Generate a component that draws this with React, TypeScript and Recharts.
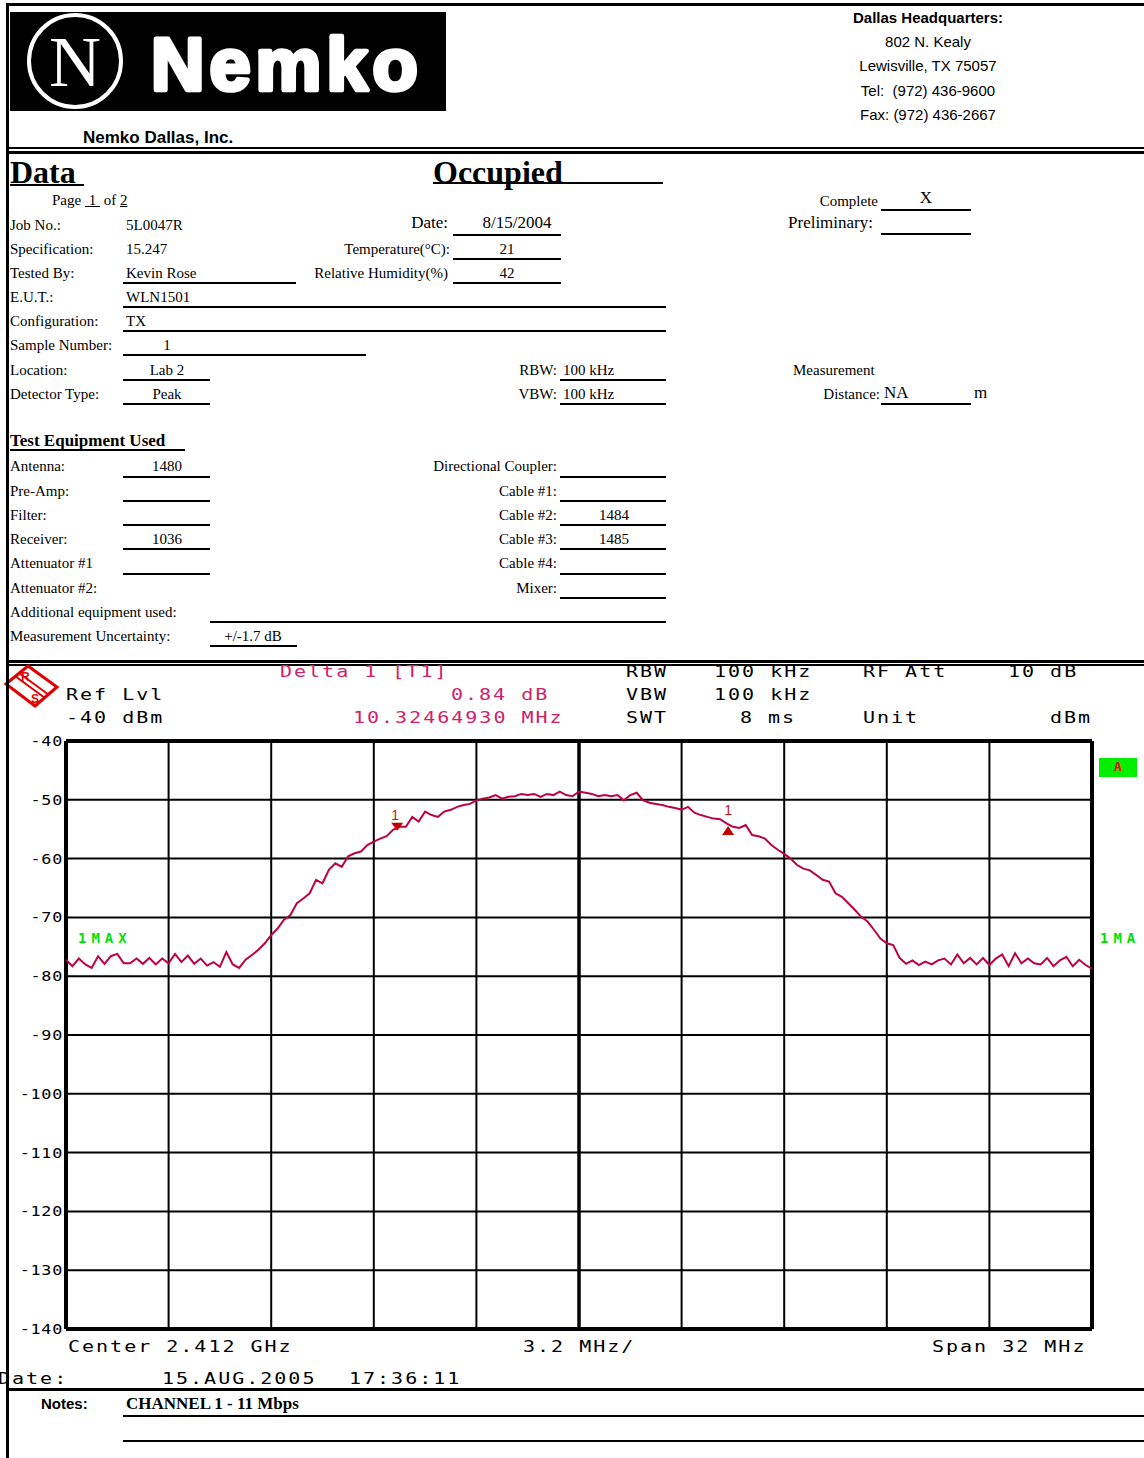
import React from "react";
import { LineChart, Line, XAxis, YAxis, ReferenceLine, ReferenceDot } from "recharts";

// sweep: center 2.412 GHz, span 32 MHz
const START_MHZ = 2396;
const STEP_MHZ = 0.2;

// trace 1 (max hold), dBm
const levels = [
  -77.2, -78.3, -77.0, -78.0, -78.6, -76.6, -77.9, -76.6, -76.2, -77.8,
  -77.8, -77.0, -77.9, -76.9, -78.0, -77.0, -77.8, -76.2, -77.6, -76.5,
  -77.9, -77.0, -78.2, -77.6, -78.4, -75.9, -78.0, -78.6, -77.2, -76.4,
  -75.5, -74.4, -73.0, -71.9, -70.4, -69.6, -67.6, -66.8, -65.9, -63.6,
  -64.2, -61.9, -60.8, -61.4, -59.6, -59.1, -58.8, -57.7, -57.1, -56.6,
  -56.2, -55.1, -54.6, -54.6, -52.9, -53.7, -52.0, -52.6, -52.9, -52.0,
  -51.7, -51.2, -50.9, -50.7, -50.1, -49.8, -49.6, -49.2, -49.8, -49.5,
  -49.4, -49.0, -49.2, -49.0, -49.5, -49.0, -49.2, -48.6, -49.2, -49.4,
  -48.6, -48.8, -49.0, -49.4, -49.2, -49.4, -49.2, -50.1, -49.2, -48.8,
  -50.1, -50.5, -50.7, -50.9, -51.2, -51.4, -51.7, -51.2, -52.2, -52.6,
  -52.9, -53.2, -53.3, -54.0, -54.6, -54.8, -54.3, -56.0, -56.2, -56.6,
  -57.7, -58.5, -59.2, -60.0, -61.1, -61.7, -62.0, -62.8, -63.6, -63.9,
  -65.9, -66.5, -67.6, -68.7, -69.9, -70.7, -72.1, -73.6, -74.4, -74.7,
  -76.9, -77.9, -77.3, -78.1, -77.5, -78.0, -77.3, -77.0, -78.0, -76.3,
  -77.8, -76.9, -78.0, -76.9, -78.1, -77.0, -76.3, -78.3, -76.1, -77.8,
  -77.0, -77.8, -78.0, -76.9, -78.3, -77.3, -76.7, -78.3, -77.2, -78.1, -78.7,
];

const xTicks = [2396, 2399.2, 2402.4, 2405.6, 2408.8, 2412, 2415.2, 2418.4, 2421.6, 2424.8, 2428];
const yTicks = [-40, -50, -60, -70, -80, -90, -100, -110, -120, -130, -140];

const marker1 = { freq: 2406.33, level: -54.6 };
const delta1 = { freq: 2416.65, level: -53.76 };

const trace = levels.map((level, i) => ({ freq: +(START_MHZ + i * STEP_MHZ).toFixed(2), level }));

const W = 1144;
const SERIF = '"Liberation Serif", "Times New Roman", serif';
const SANS = '"Liberation Sans", Arial, sans-serif';
const MONO = '"DejaVu Sans Mono", monospace';
const PINK = "#d0206a";
const TRACE = "#be0046";

type TP = {
  x: number;
  y: number;
  s?: number;
  f?: string;
  b?: boolean;
  a?: "l" | "r" | "c";
  c?: string;
  ls?: number;
  children: React.ReactNode;
};

function T({ x, y, s = 15, f = SERIF, b, a = "l", c = "#000", ls, children }: TP) {
  const style: React.CSSProperties = {
    position: "absolute",
    top: y - s * 0.6,
    fontSize: s,
    lineHeight: `${s * 1.2}px`,
    fontFamily: f,
    fontWeight: b ? "bold" : "normal",
    color: c,
    whiteSpace: "pre",
    letterSpacing: ls,
  };
  if (a === "l") style.left = x;
  else if (a === "r") style.right = W - x;
  else {
    style.left = x;
    style.transform = "translateX(-50%)";
  }
  return <div style={style}>{children}</div>;
}

function HL({ x1, x2, y, w = 2 }: { x1: number; x2: number; y: number; w?: number }) {
  return <div style={{ position: "absolute", left: x1, top: y - w / 2, width: x2 - x1, height: w, background: "#000" }} />;
}

// instrument screen text, wide thin glyphs
function M({ x, y, c = "#000", children }: { x: number; y: number; c?: string; children: React.ReactNode }) {
  return (
    <div
      style={{
        position: "absolute",
        left: x,
        top: y - 9.6,
        fontSize: 16,
        lineHeight: "19.2px",
        fontFamily: MONO,
        letterSpacing: 1.6,
        color: c,
        whiteSpace: "pre",
        transform: "scaleX(1.25)",
        transformOrigin: "left center",
      }}
    >
      {children}
    </div>
  );
}

const YTick = (props: any) => {
  const { x, y, payload } = props;
  return (
    <text
      transform={`translate(${x + 1},${y + 5}) scale(1.2,1)`}
      textAnchor="end"
      fontFamily={MONO}
      fontSize={14}
      letterSpacing={0.6}
      fill="#000"
    >
      {payload.value}
    </text>
  );
};

const DownMarker = (p: any) => {
  const { cx, cy } = p;
  return (
    <g>
      <text x={cx - 2} y={cy - 7} textAnchor="middle" fill="#c81010" fontSize={14} fontFamily={SANS}>1</text>
      <path d={`M${cx - 6},${cy - 4} L${cx + 6},${cy - 4} L${cx},${cy + 4} Z`} fill="#c00000" />
    </g>
  );
};

const UpMarker = (p: any) => {
  const { cx, cy } = p;
  return (
    <g>
      <text x={cx} y={cy - 7} textAnchor="middle" fill="#c81010" fontSize={14} fontFamily={SANS}>1</text>
      <path d={`M${cx},${cy + 4} L${cx + 6},${cy + 13} L${cx - 6},${cy + 13} Z`} fill="#c00000" />
    </g>
  );
};

function Spectrum() {
  return (
    <div style={{ position: "absolute", left: 0, top: 720 }}>
      <LineChart width={1144} height={640} data={trace} margin={{ top: 21, right: 52, bottom: 31, left: 0 }}>
        <XAxis type="number" dataKey="freq" domain={[2396, 2428]} ticks={xTicks} hide />
        <YAxis
          type="number"
          domain={[-140, -40]}
          ticks={yTicks}
          interval={0}
          width={66}
          axisLine={false}
          tickLine={false}
          tickSize={0}
          tickMargin={4}
          tick={<YTick />}
        />
        {xTicks.slice(1, -1).map((v) => (
          <ReferenceLine key={`x${v}`} x={v} stroke="#000" strokeWidth={v === 2412 ? 3.5 : 2} />
        ))}
        {yTicks.slice(1, -1).map((v) => (
          <ReferenceLine key={`y${v}`} y={v} stroke="#000" strokeWidth={2} />
        ))}
        <ReferenceLine x={2396} stroke="#000" strokeWidth={4} />
        <ReferenceLine x={2428} stroke="#000" strokeWidth={4} />
        <ReferenceLine y={-40} stroke="#000" strokeWidth={4} />
        <ReferenceLine y={-140} stroke="#000" strokeWidth={4} />
        <Line type="linear" dataKey="level" stroke={TRACE} strokeWidth={2} dot={false} isAnimationActive={false} />
        <ReferenceDot x={marker1.freq} y={marker1.level} shape={DownMarker} />
        <ReferenceDot x={delta1.freq} y={delta1.level} shape={UpMarker} />
      </LineChart>
    </div>
  );
}

function Logo() {
  return (
    <svg style={{ position: "absolute", left: 10, top: 12 }} width={436} height={99}>
      <rect x={0} y={0} width={436} height={99} fill="#000" />
      <circle cx={65} cy={49} r={46} fill="none" stroke="#fff" strokeWidth={4} />
      <text x={65} y={74} textAnchor="middle" fill="#fff" fontFamily={SERIF} fontSize={72}>N</text>
      <text x={141} y={78} fill="#fff" stroke="#fff" strokeWidth={4.5} strokeLinejoin="round" fontFamily={SANS} fontWeight="bold" fontSize={74} letterSpacing={5}>
        Nemko
      </text>
    </svg>
  );
}

function RSLogo() {
  return (
    <svg style={{ position: "absolute", left: 3, top: 663 }} width={58} height={46}>
      <polygon points="3,21 25,3 54,24 32,43" fill="none" stroke="#e00000" strokeWidth={3} />
      <line x1={12} y1={13} x2={42} y2={35} stroke="#e00000" strokeWidth={2} />
      <line x1={16} y1={10} x2={46} y2={32} stroke="#e00000" strokeWidth={2} />
      <text x={18} y={18} fill="#e00000" fontFamily={SANS} fontWeight="bold" fontSize={12}>R</text>
      <text x={28} y={40} fill="#e00000" fontFamily={SANS} fontWeight="bold" fontSize={12}>S</text>
    </svg>
  );
}

const u: React.CSSProperties = { textDecoration: "underline" };

export default function App() {
  return (
    <div style={{ position: "absolute", left: 0, top: 0, width: W, height: 1458, background: "#fff", overflow: "hidden" }}>
      <Logo />
      <T x={83} y={138} s={17} f={SANS} b>Nemko Dallas, Inc.</T>

      <T x={928} y={18} s={15} f={SANS} b a="c">Dallas Headquarters:</T>
      <T x={928} y={42} s={15} f={SANS} a="c">802 N. Kealy</T>
      <T x={928} y={66} s={15} f={SANS} a="c">Lewisville, TX 75057</T>
      <T x={928} y={91} s={15} f={SANS} a="c">Tel:  (972) 436-9600</T>
      <T x={928} y={115} s={15} f={SANS} a="c">Fax: (972) 436-2667</T>

      <HL x1={8} x2={W} y={148} w={1.5} />
      <HL x1={8} x2={W} y={152} w={3} />

      <T x={10} y={172} s={32} b>Data</T>
      <HL x1={10} x2={84} y={185} w={2} />
      <T x={433} y={172} s={32} b>Occupied</T>
      <HL x1={433} x2={663} y={183} w={2} />

      <T x={52} y={200}>Page <span style={u}>&nbsp;1&nbsp;</span> of <span style={u}>2</span></T>

      <T x={10} y={225}>Job No.:</T>
      <T x={126} y={225}>5L0047R</T>
      <T x={448} y={223} s={17} a="r">Date:</T>
      <T x={517} y={223} s={17} a="c">8/15/2004</T>
      <HL x1={453} x2={561} y={235} />

      <T x={10} y={249}>Specification:</T>
      <T x={126} y={249}>15.247</T>
      <T x={450} y={249} a="r">Temperature(°C):</T>
      <T x={507} y={249} a="c">21</T>
      <HL x1={453} x2={561} y={259} />

      <T x={10} y={273}>Tested By:</T>
      <T x={126} y={273}>Kevin Rose</T>
      <HL x1={123} x2={296} y={283} />
      <T x={448} y={273} a="r">Relative Humidity(%)</T>
      <T x={507} y={273} a="c">42</T>
      <HL x1={453} x2={561} y={283} />

      <T x={10} y={297}>E.U.T.:</T>
      <T x={126} y={297}>WLN1501</T>
      <HL x1={123} x2={666} y={307} />

      <T x={10} y={321}>Configuration:</T>
      <T x={126} y={321}>TX</T>
      <HL x1={123} x2={666} y={331} />

      <T x={10} y={345}>Sample Number:</T>
      <T x={167} y={345} a="c">1</T>
      <HL x1={123} x2={366} y={355} />

      <T x={10} y={370}>Location:</T>
      <T x={167} y={370} a="c">Lab 2</T>
      <HL x1={123} x2={210} y={380} />
      <T x={557} y={370} a="r">RBW:</T>
      <T x={563} y={370}>100 kHz</T>
      <HL x1={560} x2={666} y={380} />

      <T x={10} y={394}>Detector Type:</T>
      <T x={167} y={394} a="c">Peak</T>
      <HL x1={123} x2={210} y={404} />
      <T x={557} y={394} a="r">VBW:</T>
      <T x={563} y={394}>100 kHz</T>
      <HL x1={560} x2={666} y={404} />

      <T x={878} y={201} a="r">Complete</T>
      <T x={926} y={198} s={17} a="c">X</T>
      <HL x1={881} x2={971} y={210} />
      <T x={873} y={223} s={17} a="r">Preliminary:</T>
      <HL x1={881} x2={971} y={234} />

      <T x={793} y={370}>Measurement</T>
      <T x={880} y={394} a="r">Distance:</T>
      <T x={884} y={393} s={17}>NA</T>
      <HL x1={881} x2={971} y={404} />
      <T x={974} y={393} s={17}>m</T>

      <T x={10} y={441} s={17} b>Test Equipment Used</T>
      <HL x1={10} x2={185} y={450} />

      <T x={10} y={466}>Antenna:</T>
      <T x={167} y={466} a="c">1480</T>
      <HL x1={123} x2={210} y={477} />
      <T x={557} y={466} a="r">Directional Coupler:</T>
      <HL x1={560} x2={666} y={477} />

      <T x={10} y={491}>Pre-Amp:</T>
      <HL x1={123} x2={210} y={501} />
      <T x={557} y={491} a="r">Cable #1:</T>
      <HL x1={560} x2={666} y={501} />

      <T x={10} y={515}>Filter:</T>
      <HL x1={123} x2={210} y={525} />
      <T x={557} y={515} a="r">Cable #2:</T>
      <T x={614} y={515} a="c">1484</T>
      <HL x1={560} x2={666} y={525} />

      <T x={10} y={539}>Receiver:</T>
      <T x={167} y={539} a="c">1036</T>
      <HL x1={123} x2={210} y={549} />
      <T x={557} y={539} a="r">Cable #3:</T>
      <T x={614} y={539} a="c">1485</T>
      <HL x1={560} x2={666} y={549} />

      <T x={10} y={563}>Attenuator #1</T>
      <HL x1={123} x2={210} y={574} />
      <T x={557} y={563} a="r">Cable #4:</T>
      <HL x1={560} x2={666} y={574} />

      <T x={10} y={588}>Attenuator #2:</T>
      <T x={557} y={588} a="r">Mixer:</T>
      <HL x1={560} x2={666} y={598} />

      <T x={10} y={612}>Additional equipment used:</T>
      <HL x1={210} x2={666} y={622} />

      <T x={10} y={636}>Measurement Uncertainty:</T>
      <T x={253} y={636} a="c">+/-1.7 dB</T>
      <HL x1={210} x2={297} y={646} />

      <HL x1={8} x2={W} y={661} w={3} />
      <HL x1={8} x2={W} y={665} w={1.5} />

      <Spectrum />
      <RSLogo />

      <M x={280} y={672} c={PINK}>Delta 1 [T1]</M>
      <M x={66} y={695}>Ref Lvl</M>
      <M x={451} y={695} c={PINK}>0.84 dB</M>
      <M x={66} y={718}>-40 dBm</M>
      <M x={353} y={718} c={PINK}>10.32464930 MHz</M>
      <M x={626} y={672}>RBW</M>
      <M x={714} y={672}>100 kHz</M>
      <M x={863} y={672}>RF Att</M>
      <M x={1008} y={672}>10 dB</M>
      <M x={626} y={695}>VBW</M>
      <M x={714} y={695}>100 kHz</M>
      <M x={626} y={718}>SWT</M>
      <M x={740} y={718}>8 ms</M>
      <M x={863} y={718}>Unit</M>
      <M x={1050} y={718}>dBm</M>

      <T x={78} y={938} s={14} f={MONO} b ls={5} c="#00e000">1MAX</T>
      <T x={1100} y={938} s={14} f={MONO} b ls={5} c="#00e000">1MA</T>
      <div style={{ position: "absolute", left: 1099, top: 758, width: 38, height: 19, background: "#00ee00" }} />
      <T x={1118} y={767} s={13} f={MONO} b a="c" c="#ff0000">A</T>

      <M x={68} y={1347}>Center 2.412 GHz</M>
      <M x={523} y={1347}>3.2 MHz/</M>
      <M x={932} y={1347}>Span 32 MHz</M>
      <M x={-2} y={1379}>Date:</M>
      <M x={162} y={1379}>15.AUG.2005</M>
      <M x={349} y={1379}>17:36:11</M>

      <HL x1={8} x2={W} y={1389} w={3} />
      <T x={41} y={1404} s={15} f={SANS} b>Notes:</T>
      <T x={126} y={1404} s={17} b>CHANNEL 1 - 11 Mbps</T>
      <HL x1={123} x2={W} y={1416} />
      <HL x1={123} x2={W} y={1441} />

      <div style={{ position: "absolute", left: 7, top: 3, width: W - 7, height: 2.5, background: "#000" }} />
      <div style={{ position: "absolute", left: 6, top: 3, width: 3, height: 1455, background: "#000" }} />
    </div>
  );
}
